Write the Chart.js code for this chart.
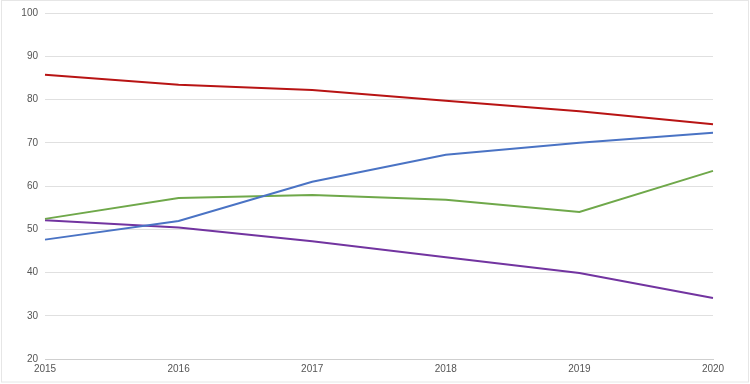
<!DOCTYPE html>
<html>
<head>
<meta charset="utf-8">
<script src="https://cdn.jsdelivr.net/npm/chart.js@4/dist/chart.umd.min.js"></script>
<style>
html,body{margin:0;padding:0;background:#fff;}
#wrap{width:750px;height:384px;position:relative;}
</style>
</head>
<body>
<div id="wrap"><canvas id="c" width="750" height="384"></canvas></div>
<script>
const years = ["2015","2016","2017","2018","2019","2020"];
const redSeries = [85.7, 83.4, 82.2, 79.7, 77.3, 74.3];
const blueSeries = [47.6, 51.9, 61.0, 67.2, 70.0, 72.3];
const greenSeries = [52.4, 57.2, 57.9, 56.8, 54.0, 63.5];
const purpleSeries = [52.1, 50.4, 47.2, 43.5, 39.9, 34.1];
const yTicks = [20, 30, 40, 50, 60, 70, 80, 90, 100];

const frame = {
  id: 'frame',
  beforeDraw(chart) {
    const ctx = chart.ctx;
    ctx.save();
    ctx.fillStyle = '#fff';
    ctx.fillRect(0, 0, chart.width, chart.height);
    ctx.strokeStyle = '#e6e6e6';
    ctx.lineWidth = 1;
    ctx.strokeRect(1.5, 0.5, chart.width - 3, chart.height - 2.5);
    ctx.restore();
  }
};

function ds(data, color) {
  return { data, borderColor: color, backgroundColor: color, borderWidth: 2,
    pointRadius: 0, tension: 0, fill: false };
}

new Chart(document.getElementById('c'), {
  type: 'line',
  data: {
    labels: years,
    datasets: [
      ds(redSeries, '#b81414'),
      ds(blueSeries, '#4a73c4'),
      ds(greenSeries, '#6fa84a'),
      ds(purpleSeries, '#7234a0')
    ]
  },
  options: {
    responsive: false,
    animation: false,
    plugins: { legend: { display: false }, tooltip: { enabled: false } },
    layout: { padding: { left: 0, right: 37, top: 13, bottom: 0 } },
    scales: {
      x: {
        offset: false,
        grid: { display: false, drawTicks: false },
        border: { display: true, color: '#cfcfcf', width: 1 },
        ticks: { color: '#555', font: { family: 'Liberation Sans, Arial, sans-serif', size: 10 }, maxRotation: 0, padding: 4 },
        afterFit(scale) { scale.height = 25; }
      },
      y: {
        min: 20, max: 100,
        afterBuildTicks(scale) { scale.ticks = yTicks.map(v => ({ value: v })); },
        grid: { color: '#e0e0e0', drawTicks: false, lineWidth: 1 },
        border: { display: false },
        ticks: { color: '#555', font: { family: 'Liberation Sans, Arial, sans-serif', size: 10 }, padding: 7 },
        afterFit(scale) { scale.width = 45; }
      }
    }
  },
  plugins: [frame]
});
</script>
</body>
</html>
